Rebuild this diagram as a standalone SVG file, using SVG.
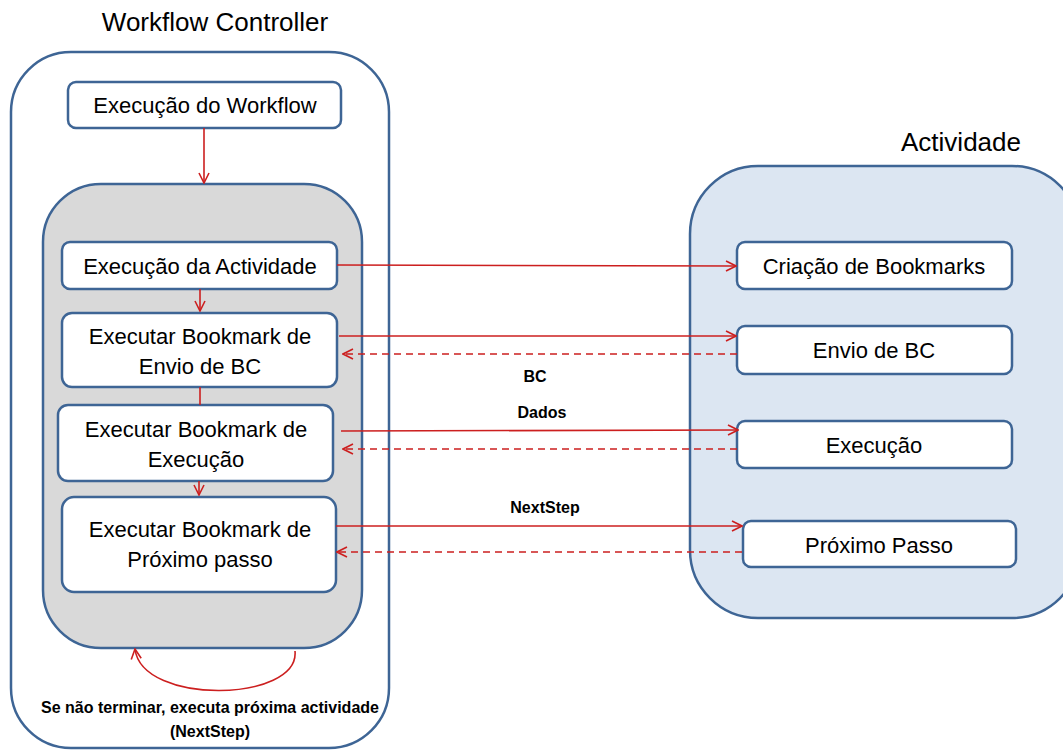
<svg xmlns="http://www.w3.org/2000/svg" width="1063" height="751" viewBox="0 0 1063 751">
<defs>
<style>
.box{fill:#fff;stroke:#3e6595;stroke-width:2.5}
.t{font-family:"Liberation Sans",Arial,sans-serif;font-size:22px;fill:#000;text-anchor:middle}
.h{font-family:"Liberation Sans",Arial,sans-serif;font-size:26px;fill:#000;text-anchor:middle}
.b{font-family:"Liberation Sans",Arial,sans-serif;font-size:16px;font-weight:bold;fill:#000;text-anchor:middle}
.c{fill:none;stroke:#cc1f1f;stroke-width:1.6}
.d{fill:none;stroke:#cc1f1f;stroke-width:1.6;stroke-dasharray:7 5}
</style>
<marker id="ah" viewBox="0 0 12 12" refX="11" refY="6" markerWidth="12" markerHeight="12" markerUnits="userSpaceOnUse" orient="auto">
<path d="M1,1 L11,6 L1,11" fill="none" stroke="#cc1f1f" stroke-width="1.6"/>
</marker>
</defs>
<rect width="1063" height="751" fill="#fff"/>
<g id="workflow-controller">
<rect x="11" y="52" width="378" height="696" rx="60" ry="60" fill="#fff" stroke="#3e6595" stroke-width="2.5"/>
<text class="h" x="215" y="31">Workflow Controller</text>
</g>
<g id="actividade">
<rect x="690" y="166" width="390" height="452" rx="68" ry="68" fill="#dce6f2" stroke="#3e6595" stroke-width="2.5"/>
<text class="h" x="961" y="151">Actividade</text>
</g>
<g id="gray-container">
<rect x="43" y="184" width="319" height="464" rx="58" ry="58" fill="#d9d9d9" stroke="#3e6595" stroke-width="2.5"/>
</g>
<g id="exec-workflow">
<rect class="box" x="68" y="82" width="273" height="46" rx="8"/>
<text class="t" x="205" y="113">Execução do Workflow</text>
</g>
<g id="exec-actividade">
<rect class="box" x="62" y="242" width="275" height="47" rx="8"/>
<text class="t" x="200" y="274">Execução da Actividade</text>
</g>
<g id="bm-envio">
<rect class="box" x="62" y="313" width="275" height="74" rx="10"/>
<text class="t" x="200" y="344">Executar Bookmark de</text>
<text class="t" x="200" y="374">Envio de BC</text>
</g>
<g id="bm-execucao">
<rect class="box" x="58" y="405" width="275" height="76" rx="10"/>
<text class="t" x="196" y="437">Executar Bookmark de</text>
<text class="t" x="196" y="467">Execução</text>
</g>
<g id="bm-proximo">
<rect class="box" x="62" y="497" width="274" height="95" rx="12"/>
<text class="t" x="200" y="537">Executar Bookmark de</text>
<text class="t" x="200" y="567">Próximo passo</text>
</g>
<g id="criacao">
<rect class="box" x="737" y="242" width="275" height="47" rx="8"/>
<text class="t" x="874" y="274">Criação de Bookmarks</text>
</g>
<g id="envio">
<rect class="box" x="737" y="326" width="275" height="48" rx="8"/>
<text class="t" x="874" y="358">Envio de BC</text>
</g>
<g id="execucao">
<rect class="box" x="737" y="421" width="275" height="47" rx="8"/>
<text class="t" x="874" y="453">Execução</text>
</g>
<g id="proximo">
<rect class="box" x="743" y="521" width="273" height="46" rx="8"/>
<text class="t" x="879" y="553">Próximo Passo</text>
</g>
<g id="connectors">
<line class="c" x1="204" y1="128" x2="204" y2="183" marker-end="url(#ah)"/>
<line class="c" x1="200" y1="289" x2="200" y2="311" marker-end="url(#ah)"/>
<line class="c" x1="200" y1="387" x2="200" y2="405"/>
<line class="c" x1="199" y1="481" x2="199" y2="495" marker-end="url(#ah)"/>
<line class="c" x1="337" y1="265" x2="736" y2="266" marker-end="url(#ah)"/>
<line class="c" x1="339" y1="336" x2="736" y2="336" marker-end="url(#ah)"/>
<line class="d" x1="737" y1="354" x2="343" y2="354" marker-end="url(#ah)"/>
<line class="c" x1="341" y1="431" x2="738" y2="430" marker-end="url(#ah)"/>
<line class="d" x1="737" y1="449" x2="343" y2="449" marker-end="url(#ah)"/>
<line class="c" x1="336" y1="526" x2="742" y2="526" marker-end="url(#ah)"/>
<line class="d" x1="742" y1="552" x2="337" y2="552" marker-end="url(#ah)"/>
<path class="c" d="M295,651 C300,702 142,706 135,649" marker-end="url(#ah)"/>
<text class="b" x="535" y="382">BC</text>
<text class="b" x="542" y="418">Dados</text>
<text class="b" x="545" y="513">NextStep</text>
<text class="b" x="210" y="713">Se não terminar, executa próxima actividade</text>
<text class="b" x="210" y="737">(NextStep)</text>
</g>
</svg>
